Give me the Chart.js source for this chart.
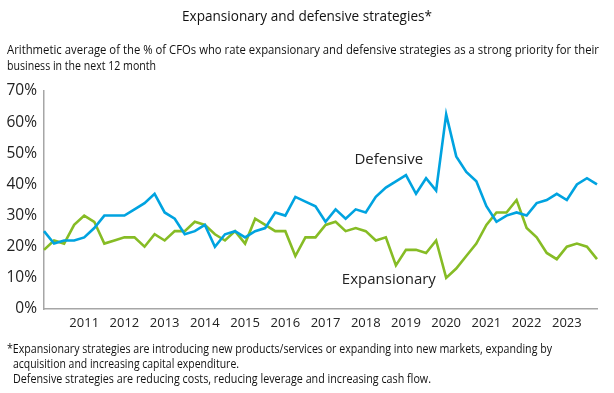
<!DOCTYPE html>
<html>
<head>
<meta charset="utf-8">
<script src="https://cdn.jsdelivr.net/npm/chart.js@4"></script>
<style>
  html, body { margin: 0; padding: 0; background: #fff; }
  body { width: 614px; height: 393px; position: relative; overflow: hidden; font-family: "Open Sans", sans-serif; color: #111; }
  #wrap { position: absolute; left: 0; top: 0; width: 614px; height: 393px; }
  .t { position: absolute; white-space: nowrap; transform-origin: 0 50%; }
</style>
</head>
<body>
<div id="wrap"><canvas id="c" width="614" height="393"></canvas></div>
<div class="t" data-w="250" style="left:182px; top:5px; font-size:15px;">Expansionary and defensive strategies*</div>
<div class="t" data-w="592" style="left:7px; top:41px; font-size:12px;">Arithmetic average of the % of CFOs who rate expansionary and defensive strategies as a strong priority for their</div>
<div class="t" data-w="149" style="left:7px; top:57px; font-size:12px;">business in the next 12 month</div>
<div class="t" data-w="545" style="left:7px; top:340px; font-size:12px;">*Expansionary strategies are introducing new products/services or expanding into new markets, expanding by</div>
<div class="t" data-w="226" style="left:13px; top:355px; font-size:12px;">acquisition and increasing capital expenditure.</div>
<div class="t" data-w="418" style="left:13px; top:370px; font-size:12px;">Defensive strategies are reducing costs, reducing leverage and increasing cash flow.</div>
<script>
const quarters = [
  '2010 Q1','2010 Q2','2010 Q3','2010 Q4',
  '2011 Q1','2011 Q2','2011 Q3','2011 Q4',
  '2012 Q1','2012 Q2','2012 Q3','2012 Q4',
  '2013 Q1','2013 Q2','2013 Q3','2013 Q4',
  '2014 Q1','2014 Q2','2014 Q3','2014 Q4',
  '2015 Q1','2015 Q2','2015 Q3','2015 Q4',
  '2016 Q1','2016 Q2','2016 Q3','2016 Q4',
  '2017 Q1','2017 Q2','2017 Q3','2017 Q4',
  '2018 Q1','2018 Q2','2018 Q3','2018 Q4',
  '2019 Q1','2019 Q2','2019 Q3','2019 Q4',
  '2020 Q1','2020 Q2','2020 Q3','2020 Q4',
  '2021 Q1','2021 Q2','2021 Q3','2021 Q4',
  '2022 Q1','2022 Q2','2022 Q3','2022 Q4',
  '2023 Q1','2023 Q2','2023 Q3','2023 Q4'
];
const yearTicks = ['2011','2012','2013','2014','2015','2016','2017','2018','2019','2020','2021','2022','2023'];
const defensive = [
  25,21,22,22,23,26,30,30,30,32,34,37,31,29,24,25,27,20,24,25,23,25,26,31,30,36,34.5,33,
  28,32,29,32,31,36,39,41,43,37,42,38,62.5,49,44,41,33,28,30,31,30,34,35,37,35,40,42,40
];
const expansionary = [
  19,22,21,27,30,28,21,22,23,23,20,24,22,25,25,28,27,24,22,25,21,29,27,25,25,17,23,23,
  27,28,25,26,25,22,23,14,19,19,18,22,10,13,17,21,27,31,31,35,26,23,18,16,20,21,20,16
];
const yTicks = [0,10,20,30,40,50,60,70];
const seriesLabels = [
  { text: 'Defensive', index: 34.3, value: 48 },
  { text: 'Expansionary', index: 34.3, value: 9.5 }
];

const BLUE = '#00A3E0', GREEN = '#86BC25';

// fit text widths to the reference
document.querySelectorAll('.t[data-w]').forEach(el => {
  const w = el.getBoundingClientRect().width;
  const target = parseFloat(el.dataset.w);
  if (w > 0) el.style.transform = 'scaleX(' + (target / w) + ')';
});

const labelPlugin = {
  id: 'seriesLabels',
  afterDatasetsDraw(chart) {
    const { ctx, scales: { x, y } } = chart;
    ctx.save();
    ctx.font = '15px "Open Sans"';
    ctx.fillStyle = '#222';
    ctx.textAlign = 'center';
    ctx.textBaseline = 'middle';
    seriesLabels.forEach(l => {
      const x0 = x.getPixelForValue(0), x1 = x.getPixelForValue(1);
      ctx.fillText(l.text, x0 + (x1 - x0) * l.index, y.getPixelForValue(l.value));
    });
    ctx.restore();
  }
};

new Chart(document.getElementById('c'), {
  type: 'line',
  data: {
    labels: quarters,
    datasets: [
      { label: 'Defensive', data: defensive, borderColor: BLUE, borderWidth: 2.6, pointRadius: 0, tension: 0, fill: false },
      { label: 'Expansionary', data: expansionary, borderColor: GREEN, borderWidth: 2.6, pointRadius: 0, tension: 0, fill: false }
    ]
  },
  options: {
    responsive: false,
    animation: false,
    devicePixelRatio: 1,
    layout: { padding: { top: 91, right: 17, bottom: 56, left: 0 } },
    plugins: { legend: { display: false }, tooltip: { enabled: false }, title: { display: false } },
    scales: {
      x: {
        type: 'category',
        offset: false,
        grid: { display: false, drawTicks: false },
        border: { display: true, color: '#a6a6a6', width: 1.5 },
        ticks: {
          autoSkip: false, maxRotation: 0, minRotation: 0, padding: 6,
          color: '#222', font: { family: 'Open Sans', size: 13 },
          callback: function(v, i) {
            const q = quarters[i];
            const yr = q.slice(0, 4);
            return (q.endsWith('Q1') && yearTicks.includes(yr)) ? yr : '';
          }
        },
        afterFit: s => { s.height = 28; }
      },
      y: {
        min: 0, max: 70,
        grid: { display: false, drawTicks: false },
        border: { display: true, color: '#a6a6a6', width: 1.5 },
        afterBuildTicks: s => { s.ticks = yTicks.map(v => ({ value: v })); },
        ticks: {
          padding: 7, color: '#222', font: { family: 'Open Sans', size: 15.5 },
          callback: v => v + '%'
        },
        afterFit: s => { s.width = 44; }
      }
    }
  },
  plugins: [labelPlugin]
});
</script>
</body>
</html>
